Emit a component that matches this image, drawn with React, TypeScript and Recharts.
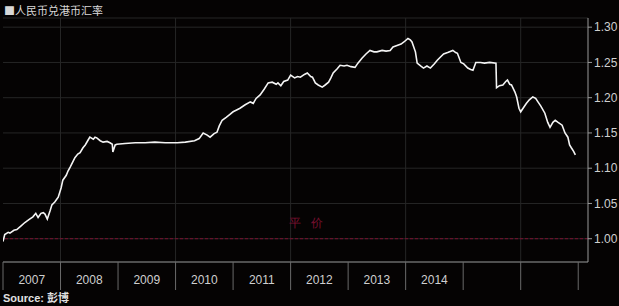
import { LineChart, Line, XAxis, YAxis, CartesianGrid, ReferenceLine } from "recharts"

const YEARS = [2007, 2008, 2009, 2010, 2011, 2012, 2013, 2014, 2015, 2016, 2017]
const YEAR_LABELS = ['2007', '2008', '2009', '2010', '2011', '2012', '2013', '2014', '', '', '']
const GRID_YEARS = [2008, 2010, 2012, 2014, 2016]
const Y_TICKS = [1.0, 1.05, 1.1, 1.15, 1.2, 1.25, 1.3]

// decimal year / CNY per HKD...
const DATES = [
  2007.0, 2007.03, 2007.09, 2007.12, 2007.19, 2007.24, 2007.31, 2007.38, 2007.45, 2007.52,
  2007.57, 2007.61, 2007.66, 2007.7, 2007.73, 2007.77, 2007.82, 2007.85, 2007.9, 2007.96,
  2008.01, 2008.04, 2008.1, 2008.13, 2008.17, 2008.22, 2008.25, 2008.3, 2008.34, 2008.39,
  2008.43, 2008.48, 2008.51, 2008.57, 2008.6, 2008.63, 2008.69, 2008.74, 2008.81, 2008.86,
  2008.9, 2008.91, 2008.95, 2008.98, 2009.12, 2009.3, 2009.47, 2009.64, 2009.82, 2010.03,
  2010.17, 2010.33, 2010.41, 2010.48, 2010.55, 2010.6, 2010.67, 2010.72, 2010.76, 2010.81,
  2010.88, 2010.94, 2011.0, 2011.07, 2011.12, 2011.21, 2011.3, 2011.35, 2011.4, 2011.47,
  2011.54, 2011.61, 2011.68, 2011.75, 2011.78, 2011.83, 2011.88, 2011.95, 2012.0, 2012.07,
  2012.12, 2012.17, 2012.24, 2012.29, 2012.35, 2012.38, 2012.43, 2012.48, 2012.55, 2012.6,
  2012.66, 2012.7, 2012.74, 2012.81, 2012.86, 2012.93, 2012.98, 2013.05, 2013.12, 2013.17,
  2013.24, 2013.31, 2013.38, 2013.45, 2013.5, 2013.59, 2013.66, 2013.73, 2013.78, 2013.85,
  2013.92, 2013.97, 2014.04, 2014.08, 2014.11, 2014.17, 2014.2, 2014.26, 2014.31, 2014.37,
  2014.43, 2014.5, 2014.55, 2014.61, 2014.66, 2014.73, 2014.82, 2014.87, 2014.9, 2014.96,
  2015.01, 2015.08, 2015.13, 2015.17, 2015.22, 2015.3, 2015.37, 2015.46, 2015.57, 2015.58,
  2015.63, 2015.69, 2015.74, 2015.77, 2015.81, 2015.84, 2015.9, 2015.93, 2015.97, 2016.0,
  2016.05, 2016.1, 2016.15, 2016.21, 2016.26, 2016.3, 2016.35, 2016.42, 2016.47, 2016.51,
  2016.56, 2016.6, 2016.65, 2016.72, 2016.77, 2016.82, 2016.85, 2016.88, 2016.92, 2016.95,
]
const RATES = [
  0.996, 1.006, 1.009, 1.008, 1.012, 1.013, 1.018, 1.023, 1.027, 1.031,
  1.036, 1.03, 1.036, 1.037, 1.035, 1.028, 1.04, 1.048, 1.052, 1.059,
  1.072, 1.083, 1.09, 1.096, 1.102, 1.11, 1.115, 1.12, 1.122, 1.129,
  1.133, 1.14, 1.144, 1.141, 1.144, 1.143, 1.139, 1.137, 1.138, 1.136,
  1.134, 1.123, 1.133, 1.134, 1.135, 1.136, 1.136, 1.137, 1.136, 1.136,
  1.137, 1.139, 1.142, 1.15, 1.147, 1.144, 1.149, 1.151, 1.16, 1.168,
  1.172, 1.176, 1.18, 1.183, 1.185, 1.19, 1.194, 1.192, 1.199, 1.204,
  1.212, 1.221, 1.222, 1.219, 1.221, 1.217, 1.223, 1.225, 1.232, 1.228,
  1.23, 1.229, 1.233, 1.235, 1.23, 1.229, 1.221, 1.218, 1.215, 1.218,
  1.222, 1.228, 1.235, 1.241, 1.246, 1.245, 1.246, 1.244, 1.243, 1.249,
  1.256, 1.262, 1.267, 1.265, 1.265, 1.267, 1.266, 1.267, 1.272, 1.274,
  1.276, 1.279, 1.284, 1.282, 1.279, 1.265, 1.249, 1.245, 1.242, 1.245,
  1.242, 1.248, 1.253, 1.258, 1.262, 1.264, 1.267, 1.264, 1.263, 1.25,
  1.248, 1.242, 1.24, 1.239, 1.25, 1.25, 1.249, 1.25, 1.249, 1.214,
  1.217, 1.218, 1.223, 1.225, 1.219, 1.218, 1.208, 1.201, 1.185, 1.18,
  1.186, 1.192, 1.197, 1.201, 1.199, 1.194, 1.188, 1.178, 1.165, 1.158,
  1.165, 1.168, 1.165, 1.161, 1.15, 1.144, 1.133, 1.129, 1.124, 1.119,
]

const data = DATES.map((t, i) => ({ t, rate: RATES[i] }))

const YearTick = (props: any) => {
  const { x, y, payload } = props
  const idx = YEARS.indexOf(payload.value)
  const label = YEAR_LABELS[idx] || ''
  return (
    <g>
      <line x1={x} y1={y} x2={x} y2={y + 28} stroke="#6a6a6a" />
      {label && (
        <text x={x + 28.75} y={y + 22} textAnchor="middle" fill="#cfcfcf" fontSize={12}>
          {label}
        </text>
      )}
    </g>
  )
}

const ParLabel = (props: any) => {
  const { viewBox } = props
  return (
    <text x={viewBox.x + 286} y={viewBox.y - 12} fill="#7a1030" fontSize={12} letterSpacing={10}>
      平价
    </text>
  )
}

export default function App() {
  return (
    <div
      style={{
        position: "absolute",
        left: 0,
        top: 0,
        width: 619,
        height: 306,
        background: "#050303",
        fontFamily: "'Liberation Sans', Arial, sans-serif",
      }}
    >
      <div
        style={{
          position: "absolute",
          left: 4,
          top: 4,
          fontSize: 11,
          color: "#d8d8d8",
          fontFamily: "'Noto Sans CJK SC', sans-serif",
          lineHeight: "12px",
        }}
      >
        ■人民币兑港币汇率
      </div>
      <LineChart
        width={619}
        height={306}
        data={data}
        margin={{ top: 18, right: 0, bottom: 16, left: 3 }}
      >
        <CartesianGrid vertical={false} stroke="#262626" />
        {GRID_YEARS.map((yr) => (
          <ReferenceLine key={yr} x={yr} stroke="#262626" />
        ))}
        <ReferenceLine y={1} stroke="#7a1030" strokeDasharray="3 2" label={<ParLabel />} />
        <XAxis
          dataKey="t"
          type="number"
          domain={[2007, 2017.17]}
          ticks={YEARS}
          interval={0}
          allowDataOverflow
          height={28}
          tickSize={0}
          tickMargin={0}
          tickLine={false}
          axisLine={{ stroke: "#8a8a8a" }}
          tick={<YearTick />}
        />
        <YAxis
          orientation="right"
          domain={[0.967, 1.313]}
          ticks={Y_TICKS}
          allowDataOverflow
          width={31}
          tickSize={4}
          tickMargin={2}
          tickFormatter={(v: number) => v.toFixed(2)}
          tick={{ fill: "#cfcfcf", fontSize: 12 }}
          tickLine={{ stroke: "#9a9a9a" }}
          axisLine={{ stroke: "#9a9a9a" }}
        />
        <Line
          dataKey="rate"
          type="linear"
          stroke="#f4f4f4"
          strokeWidth={1.6}
          dot={false}
          isAnimationActive={false}
        />
      </LineChart>
      <div
        style={{
          position: "absolute",
          left: 3,
          top: 291,
          fontSize: 11,
          fontWeight: "bold",
          color: "#e0e0e0",
          lineHeight: "13px",
        }}
      >
        Source: <span style={{ fontFamily: "'Noto Sans CJK SC', sans-serif" }}>彭博</span>
      </div>
    </div>
  )
}
